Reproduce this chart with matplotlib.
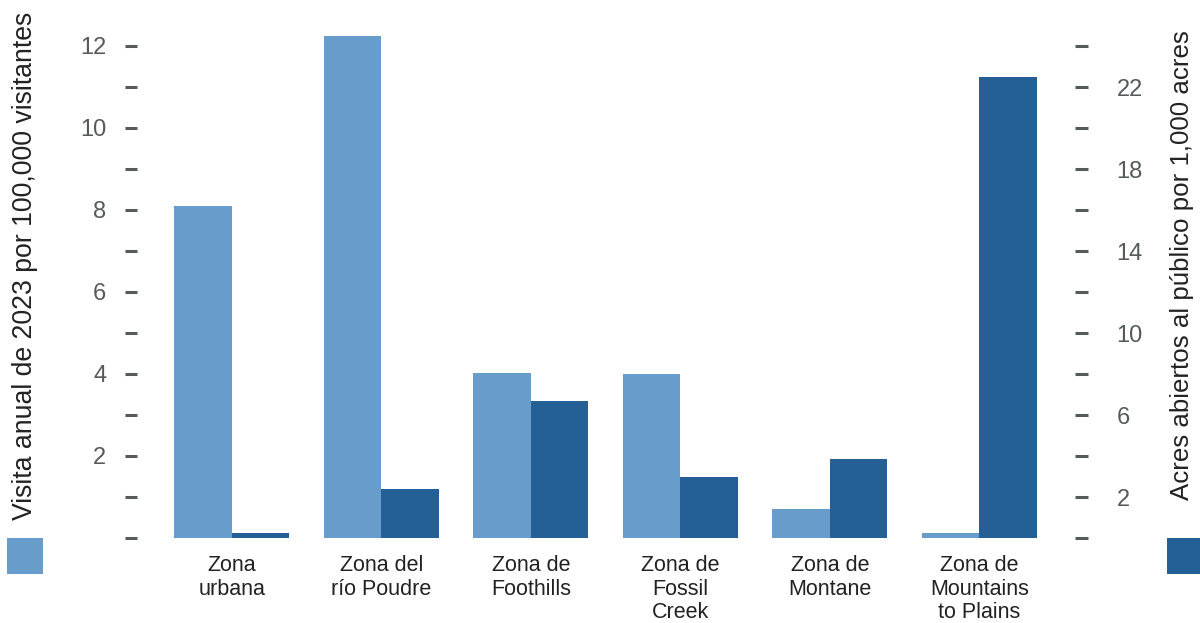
import matplotlib
matplotlib.use("Agg")
import matplotlib.pyplot as plt
from matplotlib.patches import Rectangle
import numpy as np

plt.rcParams['font.family'] = ['Liberation Sans', 'DejaVu Sans']

# Datos
zonas = ["Zona\nurbana", "Zona del\nrío Poudre", "Zona de\nFoothills",
         "Zona de\nFossil\nCreek", "Zona de\nMontane", "Zona de\nMountains\nto Plains"]
visitas = [8.1, 12.24, 4.02, 4.0, 0.71, 0.12]        # por 100,000 visitantes
acres = [0.24, 2.4, 6.7, 3.0, 3.85, 22.5]             # por 1,000 acres

left_ticks = list(range(0, 13))
left_labels = ["" if t % 2 or t == 0 else str(t) for t in left_ticks]
right_ticks = list(range(0, 25, 2))
right_labels = [str(t) if t % 4 == 2 else "" for t in right_ticks]

c_light = "#689cca"
c_dark = "#246096"
c_tick = "#555a5a"
c_text = "#222222"

W, H = 1200, 623
fig = plt.figure(figsize=(12, 6.23), dpi=100)
ax = fig.add_axes([137 / W, 1 - 538 / H, (1075 - 137) / W, (538 - 25.5) / H])
ax2 = ax.twinx()

x = np.arange(len(zonas))
bw = 0.385
ax.bar(x - bw / 2, visitas, width=bw, color=c_light, linewidth=0)
ax2.bar(x + bw / 2, acres, width=bw, color=c_dark, linewidth=0)

ax.set_xlim(-0.635, len(zonas) - 1 + 0.64)
ax.set_ylim(0, 12.5)
ax2.set_ylim(0, 25)

for a in (ax, ax2):
    for s in a.spines.values():
        s.set_visible(False)

ax.set_yticks(left_ticks)
ax.set_yticklabels(left_labels)
ax2.set_yticks(right_ticks)
ax2.set_yticklabels(right_labels)
ax.tick_params(axis='y', length=9, width=2.2, color=c_tick, labelcolor=c_tick,
               labelsize=17, pad=13)
ax2.tick_params(axis='y', length=9, width=2.2, color=c_tick, labelcolor=c_tick,
                labelsize=17, pad=21)

ax.set_xticks(x)
ax.set_xticklabels(zonas, fontsize=15.5, color=c_text, linespacing=1.18, va='top')
ax.tick_params(axis='x', length=0, pad=12)

# Etiquetas de ejes
fig.text(25 / W, 1 - 520 / H, "Visita anual de 2023 por 100,000 visitantes",
         rotation=90, ha='center', va='bottom', fontsize=19.2, color=c_text)
fig.text(1182 / W, 1 - 500 / H, "Acres abiertos al público por 1,000 acres",
         rotation=90, ha='center', va='bottom', fontsize=18.6, color=c_text)

# Cuadros de leyenda
fig.patches.append(Rectangle((7 / W, 1 - 574 / H), 36 / W, 36 / H,
                             transform=fig.transFigure, color=c_light, lw=0))
fig.patches.append(Rectangle((1167 / W, 1 - 574 / H), 36 / W, 36 / H,
                             transform=fig.transFigure, color=c_dark, lw=0))

fig.savefig("out.png", dpi=100)
